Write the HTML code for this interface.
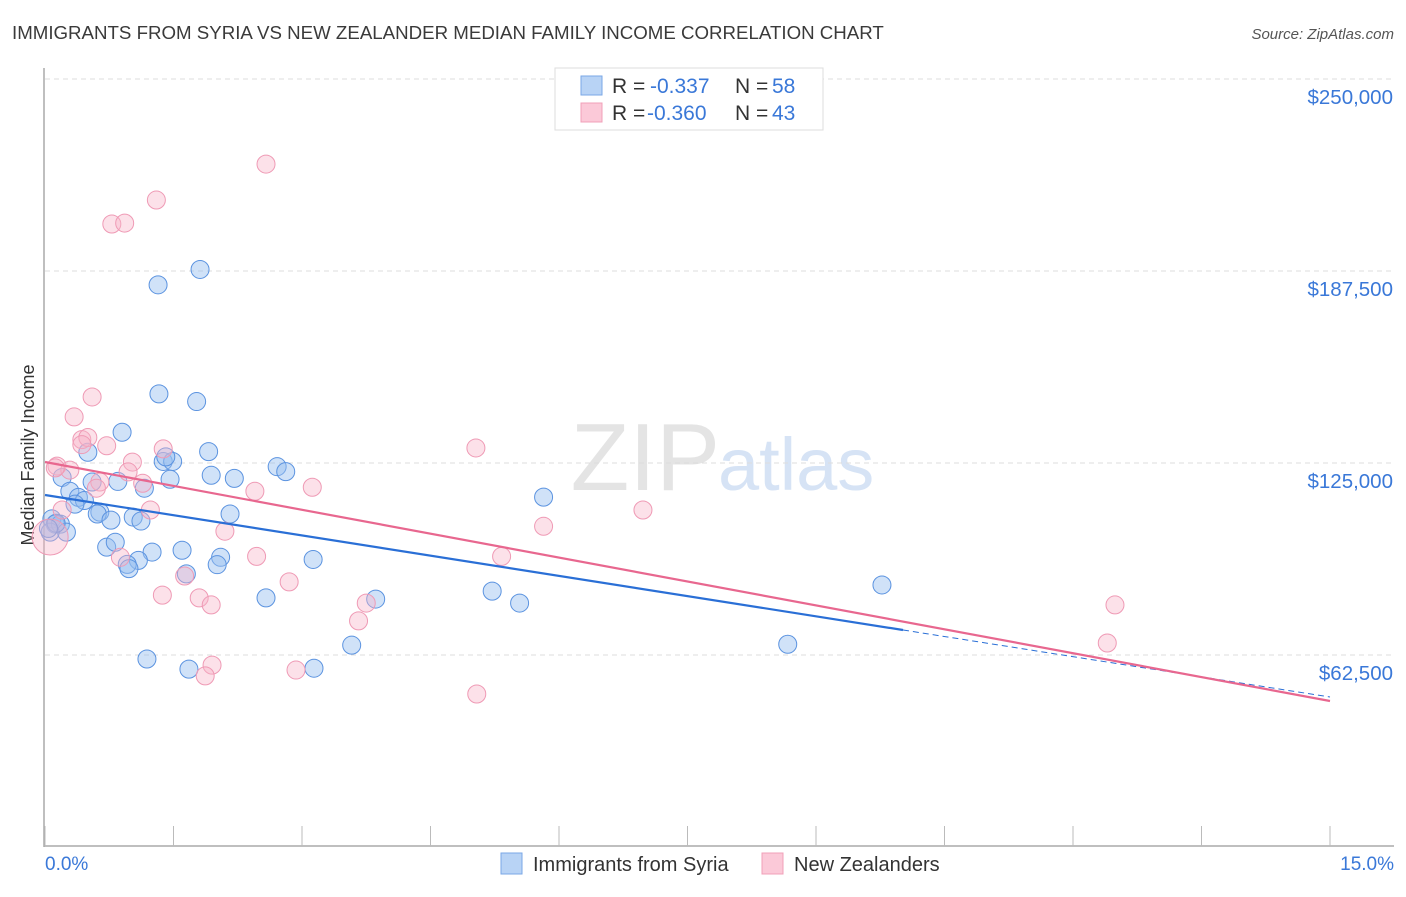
<!DOCTYPE html>
<html><head><meta charset="utf-8"><style>
body{margin:0;background:#fff;font-family:"Liberation Sans",sans-serif;}
svg text{font-family:"Liberation Sans",sans-serif;}
</style></head><body>
<svg id="chart" width="1406" height="892" xmlns="http://www.w3.org/2000/svg">
<text x="12" y="39" font-size="18.7" fill="#3a3a3a">IMMIGRANTS FROM SYRIA VS NEW ZEALANDER MEDIAN FAMILY INCOME CORRELATION CHART</text>
<text x="1394" y="39" font-size="15" fill="#555" text-anchor="end" font-style="italic">Source: ZipAtlas.com</text>
<text x="720" y="490" font-size="96" fill="#e4e4e4" text-anchor="end" font-family="Liberation Serif">ZIP</text>
<text x="718" y="490" font-size="74" fill="#d6e3f5">atlas</text>
<text transform="translate(34,455) rotate(-90)" font-size="18" fill="#333" text-anchor="middle">Median Family Income</text>
<g id="grid"></g><g id="axes"></g><g id="pts"></g><g id="lines"></g>
<g>
<rect x="555" y="68" width="268" height="62" fill="#fff" stroke="#ddd"/>
<rect x="581" y="76" width="21" height="19" fill="#b8d3f5" stroke="#7aa7e6"/>
<rect x="581" y="103" width="21" height="19" fill="#fbc9d8" stroke="#f0a0b8"/>
<text x="612" y="93" font-size="21" fill="#333">R = </text><text x="650" y="93" font-size="21" fill="#3a78d8">-0.337</text>
<text x="735" y="93" font-size="21" fill="#333">N = </text><text x="772" y="93" font-size="21" fill="#3a78d8">58</text>
<text x="612" y="120" font-size="21" fill="#333">R = </text><text x="647" y="120" font-size="21" fill="#3a78d8">-0.360</text>
<text x="735" y="120" font-size="21" fill="#333">N = </text><text x="772" y="120" font-size="21" fill="#3a78d8">43</text>
</g>
<g>
<rect x="501" y="853" width="21" height="21" fill="#b8d3f5" stroke="#7aa7e6"/>
<text x="533" y="871" font-size="20" fill="#333">Immigrants from Syria</text>
<rect x="762" y="853" width="21" height="21" fill="#fbc9d8" stroke="#f0a0b8"/>
<text x="794" y="871" font-size="20" fill="#333">New Zealanders</text>
</g>
<text x="45" y="870" font-size="19" fill="#3a78d8">0.0%</text>
<text x="1394" y="870" font-size="19" fill="#3a78d8" text-anchor="end">15.0%</text>
</svg>
<script>
const yTicks=[62500,125000,187500,250000];
const yTickLabels=["$62,500","$125,000","$187,500","$250,000"];
const xTicks=[0,1.5,3,4.5,6,7.5,9,10.5,12,13.5,15];
const syriaX=[1.32,1.81,1.33,1.77,0.90,0.50,1.91,1.38,1.49,1.41,2.71,2.81,0.20,1.94,2.21,1.46,0.85,0.55,1.16,0.29,0.39,0.46,0.35,0.64,0.61,2.16,1.03,0.77,1.12,0.08,0.12,0.18,0.25,0.06,0.72,0.82,1.25,1.60,2.05,1.09,0.96,2.01,3.13,1.65,2.58,3.86,5.22,5.82,5.54,9.77,8.67,3.58,1.19,1.68,3.14,0.13,0.04,0.98];
const syriaY=[183000,188000,147500,145000,135000,128500,128700,125500,125500,127000,123800,122200,120300,121000,120000,119700,119000,118800,116800,115800,113800,112800,111600,109000,108400,108400,107400,106400,106100,106800,105100,105100,102500,102500,97600,99200,96000,96600,94300,93300,92000,91900,93600,88900,81100,80700,83300,113900,79400,85300,66000,65700,61200,57900,58200,105400,103700,90600];
const nzX=[2.58,1.30,0.78,0.93,0.55,0.34,0.43,0.50,0.43,0.72,1.38,0.14,0.29,0.12,5.03,1.02,0.97,0.64,0.60,1.14,2.45,3.12,0.20,1.23,0.88,2.10,2.47,1.63,2.85,1.37,1.80,1.94,3.75,3.66,5.82,6.98,5.33,12.49,12.40,1.95,1.87,2.93,5.04,0.06];
const nzY=[222300,210600,202800,203100,146500,140000,132600,133300,131000,130600,129600,124000,122700,123400,129900,125300,122100,118800,116800,118400,115800,117100,109700,109700,94300,102800,94600,88200,86300,82000,81100,78800,79400,73600,104400,109700,94600,78800,66400,59200,55700,57600,49800,100900];
const nzR=Array(44).fill(9);nzR[43]=18;
const X0=45,X1=1330,YB=847,PXK=3.072/1000;
const sx=v=>X0+(X1-X0)*v/15, sy=v=>YB-v*PXK;
const NS="http://www.w3.org/2000/svg";
function mk(t,a,p){const e=document.createElementNS(NS,t);for(const k in a)e.setAttribute(k,a[k]);document.getElementById(p).appendChild(e);return e;}
yTicks.forEach((t,i)=>{
 const l=mk('line',{x1:45,x2:1394,y1:sy(t),y2:sy(t),stroke:'#ddd','stroke-dasharray':'5,4'},'grid');
 
 
 const tx=mk('text',{x:1393,y:sy(t)+25,'font-size':20.5,fill:'#3a78d8','text-anchor':'end'},'grid');
 tx.textContent=yTickLabels[i];
 
 
});
const topLine=mk('line',{x1:45,x2:1394,y1:79,y2:79,stroke:'#ddd','stroke-dasharray':'5,4'},'grid');


const ya=mk('line',{x1:44,x2:44,y1:68,y2:847,stroke:'#aaa','stroke-width':1.5},'axes');


const xa=mk('line',{x1:44,x2:1394,y1:846,y2:846,stroke:'#aaa','stroke-width':1.5},'axes');


xTicks.forEach(t=>{const l=mk('line',{x1:sx(t),x2:sx(t),y1:826,y2:846,stroke:'#bbb'},'axes');
 
 });
syriaX.forEach((x,i)=>{const c=mk('circle',{cx:sx(x),cy:sy(syriaY[i]),r:9,fill:'rgba(150,190,240,0.45)',stroke:'#5b93e0','stroke-width':1},'pts');
 
 });
nzX.forEach((x,i)=>{const c=mk('circle',{cx:sx(x),cy:sy(nzY[i]),r:nzR[i],fill:'rgba(248,180,200,0.4)',stroke:'#ef9ab5','stroke-width':1},'pts');
 
 });
const b=mk('line',{x1:sx(0),y1:495,x2:903,y2:630,stroke:'#2a6fd6','stroke-width':2.2},'lines');


const bd=mk('line',{x1:903,y1:630,x2:1330,y2:697,stroke:'#2a6fd6','stroke-width':1,'stroke-dasharray':'6,4'},'lines');


const p=mk('line',{x1:45,y1:462,x2:1330,y2:701,stroke:'#e8678f','stroke-width':2.2},'lines');


</script>
</body></html>
